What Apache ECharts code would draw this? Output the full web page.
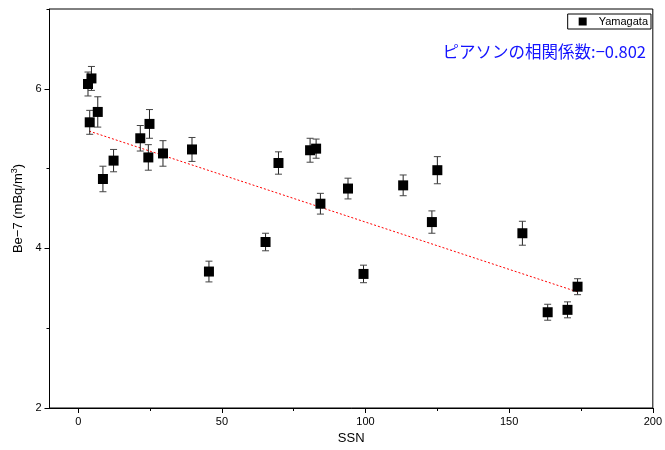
<!DOCTYPE html>
<html><head><meta charset="utf-8">
<script src="https://cdn.jsdelivr.net/npm/echarts@6/dist/echarts.min.js"></script>
<style>html,body{margin:0;padding:0;background:#fff}#c{width:665px;height:450px}</style>
</head><body><div id="c"></div>
<script>
var ssn = [3.4,4.6,4.0,6.8,8.6,12.3,21.6,24.8,24.4,29.5,39.6,45.5,65.2,69.7,80.7,82.8,84.3,93.9,99.3,113.1,125.0,123.1,154.6,163.4,170.3,173.8];
var be7 = [6.06,6.13,5.58,5.71,4.87,5.10,5.38,5.56,5.14,5.19,5.24,3.71,4.08,5.07,5.23,5.25,4.56,4.75,3.68,4.79,4.98,4.33,4.19,3.20,3.23,3.52];
var err = [0.15,0.15,0.15,0.19,0.16,0.14,0.16,0.18,0.16,0.16,0.15,0.13,0.11,0.14,0.15,0.12,0.13,0.13,0.11,0.13,0.17,0.14,0.15,0.10,0.10,0.10];
var trendX = [3.8,173.8];
var trendY = [5.47,3.455];
var xMajor = [0,50,100,150,200];
var xMinor = [25,75,125,175];
var yMajor = [2,4,6];
var yMinor = [3,5,7];
var seriesName = 'Yamagata';
var annotation = 'ピアソンの相関係数:\u22120.802';

var pts = ssn.map(function(x,i){return [x,be7[i]];});
var errData = ssn.map(function(x,i){return [x,be7[i]-err[i],be7[i]+err[i]];});
var trend = trendX.map(function(x,i){return [x,trendY[i]];});

var font = 'Liberation Sans';
var chart = echarts.init(document.getElementById('c'));
chart.setOption({
  animation:false,
  backgroundColor:'#fff',
  grid:{left:49.5,right:8,top:9,bottom:42,show:true,borderColor:'#000',borderWidth:1,backgroundColor:'transparent'},
  legend:{data:[{name:seriesName,icon:'rect'}],right:14,top:14,itemWidth:8,itemHeight:8,
    borderColor:'#000',borderWidth:1,padding:[2,3,2,11],borderRadius:0,
    textStyle:{fontFamily:font,fontSize:11,color:'#000',padding:[0,0,0,7]}},
  graphic:[{type:'text',right:19,top:43,style:{text:annotation,fill:'#1414ff',font:'16.5px "Noto Sans CJK JP"'}}],
  xAxis:[{type:'value',min:-10,max:200,name:'SSN',nameLocation:'middle',nameGap:24,
    nameTextStyle:{fontFamily:font,fontSize:13,color:'#000'},
    axisLine:{onZero:false,lineStyle:{color:'#000'}},splitLine:{show:false},
    axisTick:{customValues:xMajor,length:5,lineStyle:{color:'#000'}},
    axisLabel:{customValues:xMajor,fontFamily:font,fontSize:11,color:'#000',margin:8}},
   {type:'value',min:-10,max:200,position:'bottom',axisLine:{show:false,onZero:false},splitLine:{show:false},
    axisTick:{customValues:xMinor,length:3,lineStyle:{color:'#000'}},axisLabel:{show:false}}],
  yAxis:[{type:'value',min:2,max:7,name:'Be\u22127 (mBq/m{s|3})',nameLocation:'middle',nameGap:22,
    nameTextStyle:{fontFamily:font,fontSize:13,color:'#000',rich:{s:{fontSize:9,verticalAlign:'top',padding:[0,0,6,0],fontFamily:font,color:'#000'}}},
    axisLine:{onZero:false,lineStyle:{color:'#000'}},splitLine:{show:false},
    axisTick:{customValues:yMajor,length:5,lineStyle:{color:'#000'}},
    axisLabel:{customValues:yMajor,fontFamily:font,fontSize:11,color:'#000',margin:8}},
   {type:'value',min:2,max:7,position:'left',axisLine:{show:false,onZero:false},splitLine:{show:false},
    axisTick:{customValues:yMinor,length:3,lineStyle:{color:'#000'}},axisLabel:{show:false}}],
  series:[
    {type:'line',data:trend,symbol:'none',lineStyle:{color:'#ff0000',width:1,type:[2,2]},silent:true,z:1},
    {type:'custom',data:errData,z:2,renderItem:function(params,api){
      var x=api.value(0);var lo=api.coord([x,api.value(1)]);var hi=api.coord([x,api.value(2)]);var w=3.5;
      var st={stroke:'#222',lineWidth:1};
      var cap={stroke:'#444',lineWidth:1};
      return {type:'group',children:[
        {type:'line',shape:{x1:lo[0],y1:lo[1],x2:hi[0],y2:hi[1]},style:st},
        {type:'line',shape:{x1:lo[0]-w,y1:lo[1],x2:lo[0]+w,y2:lo[1]},style:cap},
        {type:'line',shape:{x1:hi[0]-w,y1:hi[1],x2:hi[0]+w,y2:hi[1]},style:cap}]};
    }},
    {type:'scatter',name:seriesName,data:pts,symbol:'rect',symbolSize:10,itemStyle:{color:'#000',opacity:1},z:3}
  ]
});
</script></body></html>
